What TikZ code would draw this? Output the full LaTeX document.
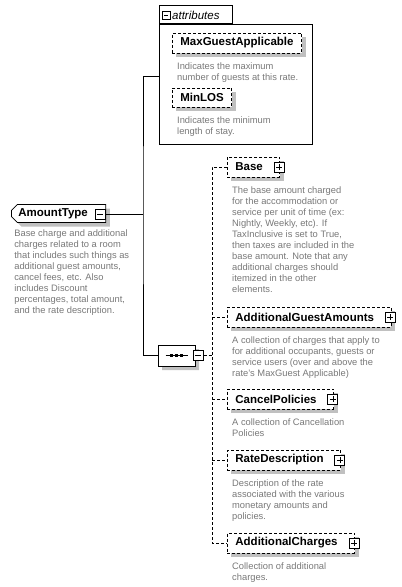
\documentclass[tikz,border=0pt]{standalone}
\usepackage{fontspec}
\setmainfont{Liberation Sans}
\usetikzlibrary{positioning, calc, shapes.misc, shadows}
\definecolor{descgray}{RGB}{120,120,120}
\definecolor{shadegray}{RGB}{192,192,192}
\tikzset{
  elembox/.style={rectangle, draw, dash pattern=on 3pt off 2pt, fill=white,
    line width=0.8pt, minimum height=20pt, inner xsep=8pt, inner ysep=0pt,
    font=\bfseries\fontsize{11.5}{13}\selectfont,
    drop shadow={fill=shadegray, opacity=1, shadow xshift=4pt, shadow yshift=-4pt}},
  childbox/.style={elembox, anchor=west, execute at end node={\hspace*{9pt}}},
  typebox/.style={elembox, solid, chamfered rectangle,
    chamfered rectangle corners={north west, south west},
    chamfered rectangle xsep=3pt, chamfered rectangle ysep=3pt},
  seqbox/.style={draw, solid, fill=white, line width=0.8pt, chamfered rectangle,
    chamfered rectangle xsep=7pt, chamfered rectangle ysep=7pt,
    minimum width=37pt, minimum height=21pt, inner sep=0pt,
    drop shadow={fill=shadegray, opacity=1, shadow xshift=4pt, shadow yshift=-4pt}},
  desc/.style={anchor=north west, align=left, inner sep=0pt, text=descgray,
    font=\fontsize{9.35}{11}\selectfont},
  togglebox/.style={rectangle, draw, solid, fill=white, line width=1pt,
    minimum size=10pt, inner sep=0pt},
  minusbox/.style={togglebox, path picture={
    \draw[line width=0.8pt] ([xshift=2pt]path picture bounding box.west)
      -- ([xshift=-2pt]path picture bounding box.east);}},
  plusbox/.style={togglebox, path picture={
    \draw[line width=0.8pt] ([xshift=2pt]path picture bounding box.west)
      -- ([xshift=-2pt]path picture bounding box.east)
      ([yshift=-2pt]path picture bounding box.north)
      -- ([yshift=2pt]path picture bounding box.south);}},
  link/.style={line width=0.8pt},
  dashlink/.style={line width=0.8pt, dash pattern=on 3pt off 2pt}
}
\begin{document}
\begin{tikzpicture}[x=1pt, y=-1pt]
  \useasboundingbox (0,0) rectangle (402,587);

  % Attributes group
  \node[draw, link, minimum width=153pt, minimum height=120pt, inner sep=0pt,
    anchor=north west] (attrs) at (159,24) {};
  \node[draw, link, minimum width=73pt, minimum height=18pt, inner sep=0pt,
    anchor=south west] (attrtab) at (attrs.north west) {};
  \node[minusbox, minimum size=8pt] (attrminus) at (166,15) {};
  \node[anchor=west, inner sep=0pt, font=\itshape\fontsize{11.5}{14}\selectfont]
    (attrlabel) at (172,15) {attributes};

  \node[elembox, anchor=west] (maxguest) at (172,43) {MaxGuestApplicable};
  \node[desc] (maxguestdesc) at ([xshift=5pt,yshift=-9pt]maxguest.south west)
    {Indicates the maximum\\number of guests at this rate.};
  \node[elembox, anchor=west, minimum height=19pt] (minlos) at (172,97.5) {MinLOS};
  \node[desc] (minlosdesc) at ([xshift=5pt,yshift=-9pt]minlos.south west)
    {Indicates the minimum\\length of stay.};

  % Complex type
  \node[typebox, anchor=west, minimum height=18pt, inner xsep=4pt,
    execute at end node={\hspace*{11pt}}] (amount) at (11,213.5) {AmountType};
  \node[minusbox] (amountminus) at (100,214.5) {};
  \node[desc] (amountdesc) at ([yshift=-9.5pt]amount.south west)
    {Base charge and additional\\charges related to a room\\that includes such things as\\additional guest amounts,\\cancel fees, etc. Also\\includes Discount\\percentages, total amount,\\and the rate description.};

  % Sequence
  \node[seqbox] (seq) at (176.5,355.5) {};
  \draw[link] ([xshift=-11pt]seq.center) -- ([xshift=11pt]seq.center);
  \foreach \d in {-5,0,5}
    \fill ([xshift=\d pt]seq.center) +(-1.5,-1.5) rectangle +(1.5,1.5);
  \node[minusbox] (seqminus) at (198,355.5) {};

  % Child elements
  \node[childbox] (base) at (227,167) {Base};
  \node[plusbox] (baseplus) at ([xshift=-1pt]base.east) {};
  \node[desc] (basedesc) at ([xshift=5pt,yshift=-9.5pt]base.south west)
    {The base amount charged\\for the accommodation or\\service per unit of time (ex:\\Nightly, Weekly, etc). If\\TaxInclusive is set to True,\\then taxes are included in the\\base amount. Note that any\\additional charges should\\itemized in the other\\elements.};

  \node[childbox] (guest) at (227,317) {AdditionalGuestAmounts};
  \node[plusbox] (guestplus) at ([xshift=-1pt]guest.east) {};
  \node[desc] (guestdesc) at ([xshift=5pt,yshift=-9.5pt]guest.south west)
    {A collection of charges that apply to\\for additional occupants, guests or\\service users (over and above the\\rate's MaxGuest Applicable)};

  \node[childbox] (cancel) at (227,399) {CancelPolicies};
  \node[plusbox] (cancelplus) at ([xshift=-1pt]cancel.east) {};
  \node[desc] (canceldesc) at ([xshift=5pt,yshift=-9.5pt]cancel.south west)
    {A collection of Cancellation\\Policies};

  \node[childbox] (rate) at (227,460) {RateDescription};
  \node[plusbox] (rateplus) at ([xshift=-1pt]rate.east) {};
  \node[desc] (ratedesc) at ([xshift=5pt,yshift=-9.5pt]rate.south west)
    {Description of the rate\\associated with the various\\monetary amounts and\\policies.};

  \node[childbox] (charges) at (227,543) {AdditionalCharges};
  \node[plusbox] (chargesplus) at ([xshift=-1pt]charges.east) {};
  \node[desc] (chargesdesc) at ([xshift=5pt,yshift=-9.5pt]charges.south west)
    {Collection of additional\\charges.};

  % Connectors
  \coordinate (trunk) at (143,214.5);
  \coordinate (attrin) at (159,76);
  \coordinate (bus) at (212,355.5);
  \draw[link] (amountminus.east) -- (trunk);
  \draw[link] (attrin) -| (trunk) |- (seq.west);
  \draw[dashlink] (seqminus.east) -- (bus);
  \draw[dashlink] (base.west) -| (bus) |- (charges.west);
  \foreach \n in {guest, cancel, rate}
    \draw[dashlink] (bus |- \n.west) -- (\n.west);
\end{tikzpicture}
\end{document}
